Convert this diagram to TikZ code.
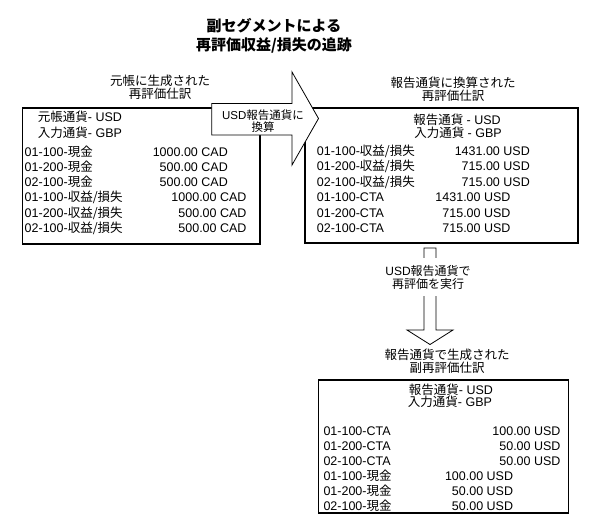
\documentclass[tikz,border=0pt]{standalone}
\usepackage{fontspec}
\setmainfont{Liberation Sans}
\newfontfamily\ja{Noto Sans CJK JP}
\newcommand\J[1]{{\ja #1}}
\begin{document}
\begin{tikzpicture}[x=1pt,y=-1pt,
  entrybox/.style={draw=black, line width=1.3pt, inner sep=0pt},
  txt/.style={inner sep=0pt, text height=9pt, text depth=0pt, font=\fontsize{12.5}{14}\selectfont},
  lbl/.style={inner sep=0pt, align=center, font=\ja\fontsize{12.5}{12.8}\selectfont},
  blockarrow/.style={draw=black, fill=white, line width=0.8pt, line join=miter},
  arrowtext/.style={inner sep=0pt, align=center, font=\fontsize{11.5}{11.8}\selectfont}]
\useasboundingbox (0,0) rectangle (601,522);
\fill[white] (0,0) rectangle (601,522);

% title
\node[inner sep=0pt, align=center, font=\ja\bfseries\fontsize{15}{18.5}\selectfont] (title) at (274,36)
  {副セグメントによる\\再評価収益/損失の追跡};

% boxes
\node[entrybox, minimum width=237.7pt, minimum height=136pt] (ledger) at (141.15,176) {};
\node[entrybox, minimum width=273pt, minimum height=135pt] (trans) at (441.5,175.5) {};
\node[entrybox, minimum width=250pt, minimum height=133pt] (sub) at (443.3,446.5) {};

% labels above boxes
\node[lbl] (ledgerlbl) at (160,87.5) {元帳に生成された\\再評価仕訳};
\node[lbl] (translbl) at (453,89) {報告通貨に換算された\\再評価仕訳};
\node[lbl] (sublbl) at (447,361) {報告通貨で生成された\\副再評価仕訳};

% left box contents
\node[txt, anchor=west] (lh1) at (37.7,116.7) {\J{元帳通貨}- USD};
\node[txt, anchor=west] (lh2) at (37.7,132.7) {\J{入力通貨}- GBP};
\node[txt, anchor=west] (l1) at (24.5,151.5) {01-100-\J{現金}};
\node[txt, anchor=west] (l2) at (24.5,166.8) {01-200-\J{現金}};
\node[txt, anchor=west] (l3) at (24.5,182.1) {02-100-\J{現金}};
\node[txt, anchor=west] (l4) at (24.5,197.4) {01-100-\J{収益/損失}};
\node[txt, anchor=west] (l5) at (24.5,212.7) {01-200-\J{収益/損失}};
\node[txt, anchor=west] (l6) at (24.5,228) {02-100-\J{収益/損失}};
\node[txt, anchor=east] (la1) at (228,151.5) {1000.00 CAD};
\node[txt, anchor=east] (la2) at (228,166.8) {500.00 CAD};
\node[txt, anchor=east] (la3) at (228,182.1) {500.00 CAD};
\node[txt, anchor=east] (la4) at (246.7,197.4) {1000.00 CAD};
\node[txt, anchor=east] (la5) at (246.7,212.7) {500.00 CAD};
\node[txt, anchor=east] (la6) at (246.7,228) {500.00 CAD};

% right box contents
\node[txt] (rh1) at (457,119.5) {\J{報告通貨} - USD};
\node[txt] (rh2) at (458,132.5) {\J{入力通貨} - GBP};
\node[txt, anchor=west] (r1) at (316.7,150.5) {01-100-\J{収益/損失}};
\node[txt, anchor=west] (r2) at (316.7,166) {01-200-\J{収益/損失}};
\node[txt, anchor=west] (r3) at (316.7,181.5) {02-100-\J{収益/損失}};
\node[txt, anchor=west] (r4) at (316.7,197) {01-100-CTA};
\node[txt, anchor=west] (r5) at (316.7,212.5) {01-200-CTA};
\node[txt, anchor=west] (r6) at (316.7,228) {02-100-CTA};
\node[txt, anchor=east] (ra1) at (530,150.5) {1431.00 USD};
\node[txt, anchor=east] (ra2) at (530,166) {715.00 USD};
\node[txt, anchor=east] (ra3) at (530,181.5) {715.00 USD};
\node[txt, anchor=east] (ra4) at (510.7,197) {1431.00 USD};
\node[txt, anchor=east] (ra5) at (510.7,212.5) {715.00 USD};
\node[txt, anchor=east] (ra6) at (510.7,228) {715.00 USD};

% bottom box contents
\node[txt] (bh1) at (451,390) {\J{報告通貨}- USD};
\node[txt] (bh2) at (450,402.3) {\J{入力通貨}- GBP};
\node[txt, anchor=west] (b1) at (323.3,430.5) {01-100-CTA};
\node[txt, anchor=west] (b2) at (323.3,445.6) {01-200-CTA};
\node[txt, anchor=west] (b3) at (323.3,460.7) {02-100-CTA};
\node[txt, anchor=west] (b4) at (323.3,475.8) {01-100-\J{現金}};
\node[txt, anchor=west] (b5) at (323.3,490.9) {01-200-\J{現金}};
\node[txt, anchor=west] (b6) at (323.3,506) {02-100-\J{現金}};
\node[txt, anchor=east] (ba1) at (560.7,430.5) {100.00 USD};
\node[txt, anchor=east] (ba2) at (560.7,445.6) {50.00 USD};
\node[txt, anchor=east] (ba3) at (560.7,460.7) {50.00 USD};
\node[txt, anchor=east] (ba4) at (513.3,475.8) {100.00 USD};
\node[txt, anchor=east] (ba5) at (513.3,490.9) {50.00 USD};
\node[txt, anchor=east] (ba6) at (513.3,506) {50.00 USD};

% right block arrow (ledger -> trans)
\draw[blockarrow] (211.7,103.5) -- (292,103.5) -- (292,72) -- (318.5,118.5)
  -- (292,165) -- (292,135) -- (211.7,135) -- cycle;
\node[arrowtext] (convtext) at (263,121) {USD\J{報告通貨に}\\\J{換算}};

% down block arrow (trans -> sub)
\draw[blockarrow] (424,248) -- (436,248) -- (436,330) -- (453,330) -- (430,344.5)
  -- (407,330) -- (424,330) -- cycle;
\node[inner sep=2pt, fill=white, minimum height=38pt, align=center,
  font=\fontsize{12}{13}\selectfont] (revtext) at (428,277)
  {USD\J{報告通貨で}\\\J{再評価を実行}};
\end{tikzpicture}
\end{document}
